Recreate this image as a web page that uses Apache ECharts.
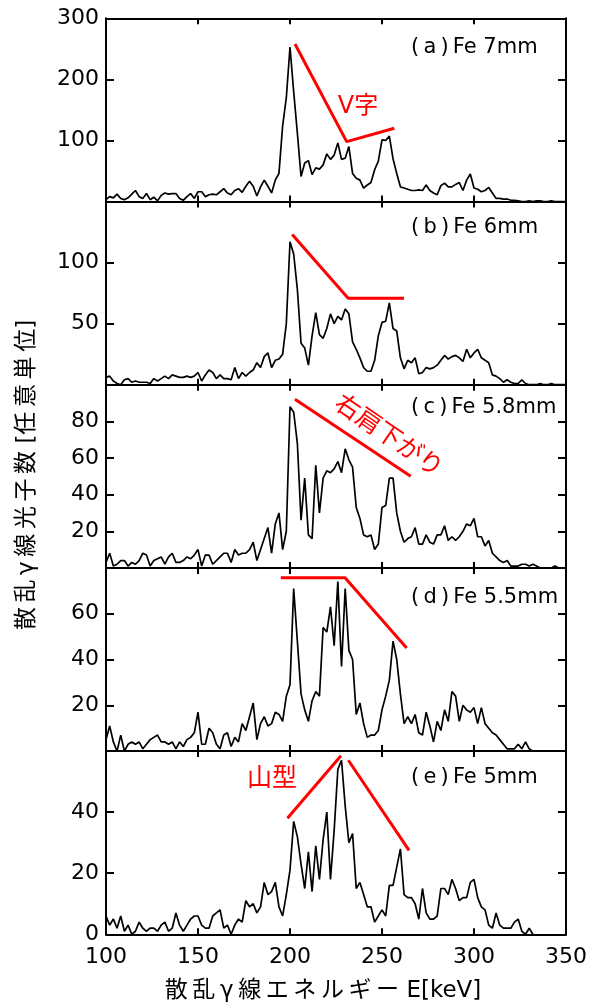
<!DOCTYPE html>
<html>
<head>
<meta charset="utf-8">
<script src="https://cdn.jsdelivr.net/npm/echarts/dist/echarts.min.js"></script>
<style>
  html, body { margin: 0; padding: 0; background: #fff; }
  #chart { width: 597px; height: 1005px; }
</style>
</head>
<body>
<div id="chart"></div>
<script>
// 散乱γ線スペクトル (Fe 厚さ別)
// エネルギーチャンネル 100〜350 keV, 2 keV 刻み
var energy = [];
for (var e = 100; e <= 350; e += 2) energy.push(e);

var fe7 = [
  3, 8, 6, 12, 5, 3, 6, 12, 18, 8,
  5, 13, 3, 7, 1, 10, 14, 12, 13, 13,
  5, 2, 8, 13, 5, 16, 16, 8, 11, 12,
  11, 16, 21, 14, 11, 18, 21, 15, 25, 33,
  25, 9, 24, 35, 25, 14, 35, 46, 124, 170,
  253, 180, 112, 41, 63, 67, 44, 55, 53, 60,
  78, 69, 76, 96, 69, 71, 90, 46, 38, 35,
  22, 27, 31, 52, 66, 101, 100, 107, 70, 46,
  24, 22, 20, 18, 18, 19, 18, 27, 18, 14,
  11, 26, 30, 24, 24, 28, 31, 18, 35, 45,
  22, 20, 16, 18, 23, 14, 5, 5, 4, 4,
  2, 2, 1, 0, 0, 1, 0, 1, 1, 0,
  0, 1, 0, 0, 0, 0
]

var fe6 = [
  6, 7, 3, 1, 0, 4, 5, 2, 3, 2,
  2, 2, 1, 5, 3, 5, 7, 5, 8, 7,
  6, 6, 7, 6, 7, 10, 3, 8, 12, 10,
  5, 8, 5, 5, 4, 14, 5, 10, 7, 10,
  12, 18, 14, 23, 26, 14, 20, 21, 25, 50,
  117, 107, 78, 34, 30, 16, 40, 59, 41, 38,
  46, 58, 50, 56, 53, 62, 58, 35, 29, 22,
  14, 11, 11, 20, 40, 51, 52, 67, 46, 44,
  22, 13, 20, 18, 22, 9, 10, 14, 13, 14,
  16, 20, 24, 21, 23, 24, 22, 19, 29, 22,
  26, 29, 22, 20, 18, 8, 7, 5, 2, 4,
  2, 1, 1, 4, 1, 0, 0, 0, 1, 0,
  0, 1, 0, 0, 0, 0
]

var fe58 = [
  3, 8, 1, 2, 4, 4, 1, 3, 2, 4,
  8, 7, 1, 4, 5, 6, 2, 6, 8, 3,
  3, 4, 6, 5, 7, 10, 1, 7, 7, 2,
  4, 6, 8, 8, 3, 10, 7, 8, 8, 10,
  14, 4, 10, 16, 22, 8, 24, 30, 10, 20,
  88, 85, 68, 26, 49, 18, 16, 56, 30, 49,
  53, 52, 54, 58, 52, 65, 59, 55, 33, 27,
  18, 17, 18, 10, 13, 33, 34, 49, 49, 30,
  20, 14, 16, 17, 22, 13, 13, 18, 14, 13,
  18, 18, 23, 15, 17, 15, 17, 20, 24, 23,
  27, 17, 17, 12, 15, 8, 6, 4, 3, 4,
  1, 1, 1, 2, 2, 1, 2, 1, 0, 0,
  0, 0, 1, 0, 0, 0
]

var fe55 = [
  5, 11, 4, 0, 7, 0, 3, 4, 3, 4,
  1, 3, 5, 6, 7, 4, 4, 3, 4, 1,
  4, 2, 5, 6, 8, 17, 3, 3, 10, 8,
  3, 1, 7, 8, 2, 6, 4, 12, 9, 15,
  21, 5, 12, 15, 11, 12, 17, 16, 13, 24,
  29, 71, 48, 25, 18, 13, 22, 26, 24, 54,
  52, 63, 46, 74, 37, 71, 44, 40, 16, 21,
  12, 6, 7, 7, 9, 18, 24, 31, 48, 40,
  25, 12, 15, 12, 16, 8, 7, 17, 11, 4,
  13, 9, 18, 13, 26, 24, 13, 20, 18, 17,
  19, 12, 19, 12, 10, 8, 7, 5, 3, 1,
  1, 1, 3, 1, 4, 1, 0, null, null, null,
  null, null, null, null, null, null
]

var fe5 = [
  6, 3, 5, 2, 6, 1, 3, 0, 1, 4,
  2, 1, 2, 2, 1, 3, 4, 1, 2, 7,
  3, 1, 3, 5, 6, 6, 3, 2, 2, 6,
  7, 8, 2, 3, 0, 3, 5, 4, 11, 9,
  10, 7, 9, 17, 13, 14, 17, 9, 6, 13,
  21, 37, 32, 23, 15, 27, 14, 29, 18, 31,
  40, 18, 34, 54, 57, 42, 30, 33, 15, 17,
  13, 9, 9, 4, 6, 8, 6, 16, 16, 22,
  28, 13, 12, 12, 10, 5, 15, 7, 5, 5,
  6, 15, 15, 13, 18, 15, 11, 12, 12, 17,
  18, 12, 9, 8, 3, 2, 7, 3, 2, 2,
  2, 4, 5, 1, 0, 2, 0, null, null, null,
  null, null, null, null, null, null
]

// 赤い補助線 [E, counts]
var guideA = [[202.7, 258], [230.8, 98], [256.7, 120]]
var guideB = [[201.2, 123], [231.6, 70.7], [262, 70.7]]
var guideC = [[202.7, 92], [265.6, 50]]
var guideD = [[195, 75.7], [229.9, 75.7], [263.4, 45]]
var guideE1 = [[198.6, 38], [227.7, 58.5]]
var guideE2 = [[231.7, 57], [264.7, 27.5]]

var panelNames = [
  '(\u2009a\u2009)\u2009Fe 7mm',
  '(\u2009b\u2009)\u2009Fe 6mm',
  '(\u2009c\u2009)\u2009Fe 5.8mm',
  '(\u2009d\u2009)\u2009Fe 5.5mm',
  '(\u2009e\u2009)\u2009Fe 5mm',
]
var yMax = [300, 150, 100, 80, 60]
var yStep = [100, 50, 20, 20, 20]
var xTicks = [100, 150, 200, 250, 300, 350]

var FONT = "'DejaVu Sans', 'Noto Sans CJK JP', sans-serif"
var data = [fe7, fe6, fe58, fe55, fe5]
var guides = [[guideA], [guideB], [guideC], [guideD], [guideE1, guideE2]]

var chart = echarts.init(document.getElementById('chart'))

var gridTop = 18.3
var gridH = 183.2
var grids = [], xAxes = [], yAxes = [], series = [], graphics = []

for (var i = 0; i < 5; i++) {
  grids.push({ left: 106, width: 460, top: gridTop + i * gridH, height: gridH })

  var axLine = { show: true, onZero: false, lineStyle: { color: '#000', width: 2 } }
  ;['bottom', 'top'].forEach(function (pos) {
    xAxes.push({
      gridIndex: i,
      type: 'value',
      position: pos,
      min: xTicks[0],
      max: xTicks[xTicks.length - 1],
      interval: 50,
      axisLine: axLine,
      axisTick: { show: true, inside: true, length: 6, lineStyle: { color: '#000', width: 2 } },
      axisLabel: {
        show: pos === 'bottom' && i === 4,
        color: '#000',
        fontSize: 22,
        fontFamily: FONT,
        margin: 12,
      },
      splitLine: { show: false },
    })
  })
  ;['left', 'right'].forEach(function (pos) {
    yAxes.push({
      gridIndex: i,
      type: 'value',
      position: pos,
      min: 0,
      max: yMax[i],
      interval: yStep[i],
      axisLine: axLine,
      axisTick: { show: true, inside: true, length: 8, lineStyle: { color: '#000', width: 2 } },
      axisLabel: {
        show: pos === 'left',
        color: '#000',
        fontSize: 22,
        fontFamily: FONT,
        margin: 7,
        showMinLabel: i === 4,
        showMaxLabel: i === 0,
      },
      splitLine: { show: false },
    })
  })

  series.push({
    type: 'line',
    xAxisIndex: 2 * i,
    yAxisIndex: 2 * i,
    data: energy.map(function (en, j) {
      var v = data[i][j]
      return [en, v === null ? '-' : v]
    }),
    showSymbol: false,
    symbol: 'none',
    lineStyle: { color: '#000', width: 1.7 },
    silent: true,
  })

  guides[i].forEach(function (g) {
    series.push({
      type: 'line',
      xAxisIndex: 2 * i,
      yAxisIndex: 2 * i,
      data: g,
      showSymbol: false,
      symbol: 'none',
      lineStyle: { color: '#ff0000', width: 3 },
      z: 5,
      silent: true,
    })
  })

  graphics.push({
    type: 'text',
    x: 411,
    y: [48, 228, 408, 598, 778][i],
    style: {
      text: panelNames[i],
      fontSize: 21,
      fontFamily: FONT,
      fill: '#000',
      textVerticalAlign: 'middle',
      verticalAlign: 'middle',
    },
  })
}

function label(text, x, y, size, color, rot) {
  return {
    type: 'text',
    x: x,
    y: y,
    rotation: rot || 0,
    style: {
      text: text,
      fontSize: size,
      fontFamily: FONT,
      fill: color,
      textAlign: 'center',
      align: 'center',
      textVerticalAlign: 'middle',
      verticalAlign: 'middle',
    },
  }
}

graphics.push(label('V字', 358, 107, 24, '#ff0000'))
graphics.push(label('右肩下がり', 388, 437, 25, '#ff0000', -0.6))
graphics.push(label('山型', 272, 779, 25, '#ff0000'))
graphics.push(label('散\u2009乱\u2009γ\u2009線\u2009光\u2009子\u2009数 [任\u2009意\u2009単\u2009位]', 27, 475, 23, '#000', Math.PI / 2))
graphics.push(label('散\u2009乱\u2009γ\u2009線\u2009エ\u2009ネ\u2009ル\u2009ギ\u2009ー E[keV]', 323, 991, 23, '#000'))

option = {
  animation: false,
  backgroundColor: '#fff',
  grid: grids,
  xAxis: xAxes,
  yAxis: yAxes,
  series: series,
  graphic: graphics,
}
chart.setOption(option)
</script>
</body>
</html>
